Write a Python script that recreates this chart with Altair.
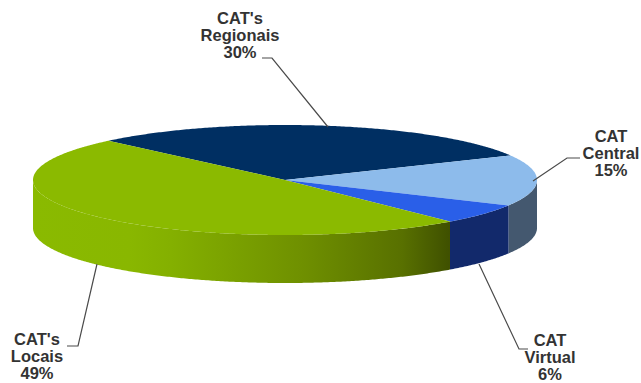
import math
import altair as alt
import pandas as pd

# Share of each service unit, in percent
categories = ["CAT's Regionais", "CAT Central", "CAT Virtual", "CAT's Locais"]
shares = [30, 15, 6, 49]
label_lines = ["CAT's\nRegionais\n30%", "CAT\nCentral\n15%", "CAT\nVirtual\n6%", "CAT's\nLocais\n49%"]

# Leader line elbows and label anchors (first text line), in canvas units
leader_points = [
    [(262, 58), (272, 58), (328, 127)],
    [(580, 158), (567, 158), (533, 181)],
    [(528, 349), (519, 349), (479, 264)],
    [(67, 346), (78, 346), (97, 264)],
]
label_anchor = [(240, 19), (611, 137), (550, 341), (37, 340)]

WIDTH, HEIGHT = 641, 383
CX, CY, RX, RY, DEPTH = 285, 180, 252, 55, 48
START_DEG = 225.5

top_colors = ["#002f62", "#8dbbeb", "#2a5fe8", "#8bba00"]


def rim(deg, drop=0):
    t = math.radians(deg)
    return CX + RX * math.cos(t), CY + RY * math.sin(t) + drop


def sweep(a, b, drop=0):
    n = max(2, int(abs(b - a) * 2))
    return [rim(a + (b - a) * i / n, drop) for i in range(n + 1)]


# Slice boundaries on the ellipse, proportional to the shares
edges = [START_DEG]
for s in shares:
    edges.append(edges[-1] + s * 3.6)

x_scale = alt.Scale(domain=[0, WIDTH], nice=False, zero=False)
y_scale = alt.Scale(domain=[HEIGHT, 0], nice=False, zero=False)


def polygon(points, fill):
    frame = pd.DataFrame(points, columns=["x", "y"]).assign(idx=lambda d: d.index)
    return alt.Chart(frame).mark_line(fill=fill, strokeWidth=0, interpolate="linear").encode(
        x=alt.X("x:Q", scale=x_scale, axis=None),
        y=alt.Y("y:Q", scale=y_scale, axis=None),
        order="idx:Q",
    )


def wall(a, b, fill):
    return polygon(sweep(a, b) + sweep(b, a, DEPTH), fill)


green_side = alt.Gradient(
    gradient="linear",
    x1=0, x2=1, y1=0, y2=0,
    stops=[
        alt.GradientStop(color="#8aba00", offset=0),
        alt.GradientStop(color="#89b700", offset=0.23),
        alt.GradientStop(color="#84b000", offset=0.33),
        alt.GradientStop(color="#6f9000", offset=0.645),
        alt.GradientStop(color="#587000", offset=0.886),
        alt.GradientStop(color="#3f5000", offset=1),
    ],
)

layers = [
    wall(0, edges[2] - 360, "#44586f"),
    wall(edges[2] - 360, edges[3] - 360, "#12296b"),
    wall(edges[3] - 360, 180, green_side),
]
for i, color in enumerate(top_colors):
    layers.append(polygon([(CX, CY)] + sweep(edges[i], edges[i + 1]), color))

# Leader lines
leader_rows = [
    {"category": categories[i], "x": p[0], "y": p[1], "idx": j}
    for i, pts in enumerate(leader_points)
    for j, p in enumerate(pts)
]
layers.append(
    alt.Chart(pd.DataFrame(leader_rows)).mark_line(color="#4a4a4a", strokeWidth=1.2).encode(
        x=alt.X("x:Q", scale=x_scale, axis=None),
        y=alt.Y("y:Q", scale=y_scale, axis=None),
        detail="category:N",
        order="idx:Q",
    )
)

# Slice labels
label_frame = pd.DataFrame({
    "label": label_lines,
    "x": [a[0] for a in label_anchor],
    "y": [a[1] for a in label_anchor],
})
layers.append(
    alt.Chart(label_frame).mark_text(
        font="Liberation Sans", fontWeight="bold", fontSize=16.5, color="#333333",
        align="center", baseline="middle", lineBreak="\n", lineHeight=17,
    ).encode(
        x=alt.X("x:Q", scale=x_scale, axis=None),
        y=alt.Y("y:Q", scale=y_scale, axis=None),
        text="label:N",
    )
)

chart = alt.layer(*layers).properties(
    width=WIDTH, height=HEIGHT, padding=0, autosize=alt.AutoSizeParams(type="none"),
    background="white",
).configure_view(stroke=None)

chart.save("out.html", embed_options={"renderer": "svg", "actions": False})
